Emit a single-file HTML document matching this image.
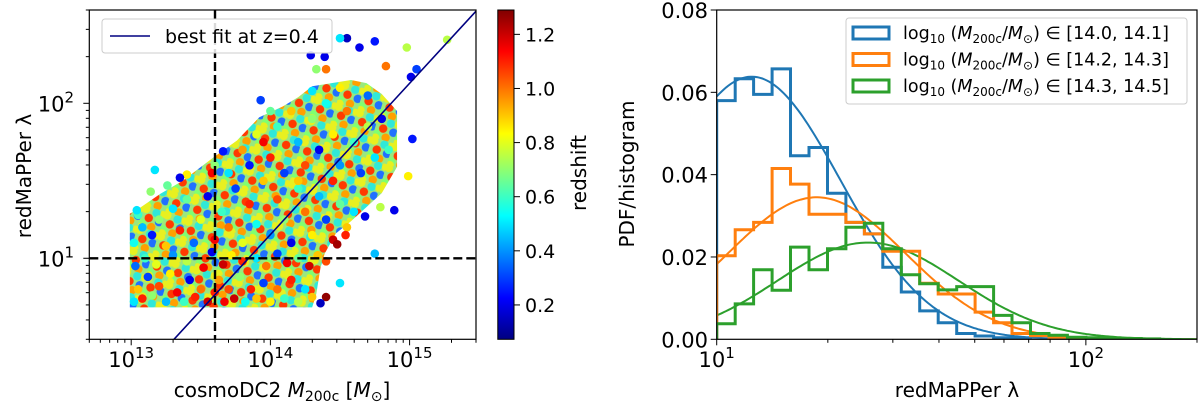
<!DOCTYPE html>
<html><head><meta charset="utf-8"><style>
html,body{margin:0;padding:0;background:#fff;width:1200px;height:408px;overflow:hidden;}
svg{display:block;font-family:"DejaVu Sans","Liberation Sans",sans-serif;}
</style></head><body>
<svg id="fig" width="1200" height="408" viewBox="0 0 1200 408" xmlns="http://www.w3.org/2000/svg">
<defs>
<linearGradient id="jetgrad" x1="0" y1="1" x2="0" y2="0">
<stop offset="0" stop-color="#000080"/><stop offset="0.125" stop-color="#0000ff"/><stop offset="0.375" stop-color="#00ffff"/><stop offset="0.625" stop-color="#ffff00"/><stop offset="0.875" stop-color="#ff0000"/><stop offset="1" stop-color="#800000"/>
</linearGradient>
<pattern id="dots" width="22" height="22" patternUnits="userSpaceOnUse" patternTransform="rotate(17)">
<rect width="22" height="22" fill="#9ae87e"/>
<circle cx="3" cy="3" r="4.2" fill="#e8f020"/>
<circle cx="14" cy="4" r="4.2" fill="#30e8d8"/>
<circle cx="8" cy="11" r="4.2" fill="#ff3a00"/>
<circle cx="19" cy="12" r="4.2" fill="#2070ff"/>
<circle cx="3" cy="18" r="4.2" fill="#80ff70"/>
<circle cx="13" cy="19" r="4.2" fill="#ffa000"/>
<circle cx="22" cy="3" r="4.2" fill="#e8f020"/>
<circle cx="3" cy="22" r="4.2" fill="#e8f020"/>
</pattern>
<clipPath id="clipL"><rect x="89.3" y="10" width="386.7" height="329.3"/></clipPath>
<clipPath id="clipR"><rect x="716.7" y="10" width="480.3" height="329.3"/></clipPath>
</defs>
<g id="left"></g>
<g id="right"></g>
</svg>
<script>
// ---------- LEFT SCATTER DATA ----------
const scatterLogM=[13.02,13.05,13.08,13.12,13.15,13.2,13.25,13.28,13.33,13.38,13.42,13.46,13.5,13.55,13.6,13.63,13.67,13.7,13.74,13.78,13.82,13.86,13.9,13.95,14.0,14.05,14.1,14.15,14.2,14.25,14.3,13.03,13.1,13.18,13.3,13.4,13.52,13.58,13.66,13.72,13.8,13.9,13.97,14.05,14.12,14.2,14.28,14.34,14.4,
13.02,13.08,13.05,13.15,13.2,13.25,13.3,13.35,13.4,13.45,13.5,13.55,13.6,13.65,13.7,13.75,13.8,13.85,13.9,13.95,14.0,14.05,14.1,14.15,14.2,14.25,14.3,14.35,14.4,14.45,14.5,14.55,14.6,
13.6,13.7,13.8,13.85,13.9,14.0,14.05,14.1,14.15,14.2,14.25,14.3,14.35,14.4,14.45,14.5,14.55,14.6,14.65,14.7,14.75,14.8,14.85,14.3,14.5,14.7,14.0,13.95,14.45,14.2,
14.55,14.5,14.75,14.64,14.98,15.27,15.05,15.01,15.02,14.99,14.89,14.75,14.54,14.48,14.4,14.36,14.5,13.17,13.4,13.35,13.14,13.26,13.04,13.93,14.29,14.39,14.33,14.4,14.83,13.66,13.58,14.79,14.68];
const scatterLogLam=[0.72,0.80,0.74,0.88,0.76,0.82,0.72,0.9,0.78,0.72,0.86,0.75,0.8,0.72,0.78,0.86,0.72,0.8,0.74,0.88,0.72,0.8,0.74,0.84,0.72,0.8,0.74,0.86,0.72,0.8,0.75,0.95,1.0,0.96,1.02,0.98,0.94,1.04,0.96,1.02,0.98,1.0,0.95,1.03,0.97,1.0,0.95,1.02,0.98,
1.1,1.2,1.28,1.15,1.25,1.08,1.32,1.18,1.38,1.1,1.25,1.4,1.12,1.3,1.2,1.45,1.1,1.35,1.22,1.5,1.15,1.38,1.25,1.1,1.45,1.3,1.15,1.4,1.25,1.12,1.35,1.2,1.3,
1.6,1.55,1.7,1.6,1.8,1.65,1.85,1.55,1.95,1.75,1.6,1.9,1.7,2.0,1.8,1.6,1.95,1.75,1.55,1.85,1.65,1.9,1.7,2.08,2.1,2.05,1.95,1.75,1.5,1.5,
2.42,2.42,2.40,2.36,2.36,2.41,2.22,2.17,1.77,1.53,1.31,1.03,1.15,1.09,0.75,0.71,0.84,1.57,1.54,1.52,1.43,1.47,1.31,2.02,2.31,2.3,2.22,2.22,2.24,1.69,1.55,1.33,1.27];
const scatterZ=[0.5,0.9,1.1,0.3,0.7,1.05,0.45,0.85,1.15,0.6,0.2,1.1,1.0,1.2,1.1,0.95,1.15,1.05,1.2,0.7,0.55,1.1,0.9,0.3,0.85,1.0,0.6,1.1,0.75,0.5,0.9,0.35,0.6,0.8,0.4,0.75,1.15,0.2,1.2,0.85,1.1,0.5,1.0,0.3,1.15,0.65,1.2,0.9,1.05,
0.55,0.45,0.6,0.25,0.7,0.9,0.5,1.1,0.65,0.35,0.8,0.2,1.15,0.6,1.0,0.3,0.8,1.1,0.55,0.9,0.4,1.05,0.7,0.2,0.6,1.0,0.85,0.45,0.3,1.2,0.65,0.9,0.5,
0.7,0.5,0.95,0.25,0.8,1.1,0.6,0.3,0.9,0.45,1.05,0.7,0.2,0.55,0.85,0.4,1.0,0.6,0.3,0.75,0.5,0.2,0.6,0.5,0.85,0.35,0.65,1.15,1.1,0.9,
0.15,0.5,0.25,0.2,0.75,0.75,0.3,0.2,0.25,0.85,0.2,0.45,1.1,1.25,1.27,0.15,0.5,0.5,0.85,0.2,0.7,0.65,0.5,0.3,0.2,0.2,0.7,1.0,1.0,0.25,1.15,0.75,0.2];
// dense-cloud outline (log M, log lambda)
const cloudLogM=[12.99,12.99,13.07,13.21,13.37,13.59,13.76,13.92,14.09,14.20,14.30,14.44,14.58,14.69,14.80,14.91,14.91,14.80,14.69,14.58,14.47,14.39,14.36,14.33,14.30];
const cloudLogLam=[0.683,1.287,1.33,1.416,1.50,1.65,1.76,1.91,1.98,2.04,2.11,2.13,2.15,2.13,2.06,1.95,1.59,1.42,1.33,1.24,1.16,1.03,0.94,0.77,0.683];
const fitSlope=0.976, fitPivotLogM=14.0, fitPivotLogLam=1.153;
const cutLogM=Math.log10(4e13), cutLam=10;
const cbTicks=[0.2,0.4,0.6,0.8,1.0,1.2];
const zMin=0.073, zMax=1.29;

// ---------- RIGHT HISTOGRAM DATA ----------
const binStartLog=1.0, binWidthLog=0.05;
const histBlue=[0.058,0.0633,0.0595,0.0657,0.0446,0.0466,0.0355,0.0284,0.0256,0.0175,0.0115,0.0069,0.004,0.0014,0.0008,0.0004,0.0002];
const histOrange=[0.0203,0.0266,0.0284,0.0415,0.0377,0.0304,0.0304,0.0284,0.0256,0.0214,0.0214,0.0136,0.011,0.011,0.0066,0.004,0.0014,0.0009,0.0005,0.0003,0.0002];
const histGreen=[0.0038,0.0086,0.0169,0.0119,0.0224,0.0169,0.022,0.0272,0.0282,0.022,0.0157,0.0135,0.012,0.0128,0.0128,0.0058,0.004,0.0014,0.001,0.0005,0.0004,0.0003,0.0002,0.0001];
const curveMu=[1.095,1.271,1.41], curveSigma=[0.24,0.24,0.245], curveAmp=[0.0638,0.0345,0.0235];
const seriesColors=['#1f77b4','#ff7f0e','#2ca02c'];
const legendRanges=['[14.0, 14.1]','[14.2, 14.3]','[14.3, 14.5]'];
const yTicksR=[0,0.02,0.04,0.06,0.08];

const NS='http://www.w3.org/2000/svg';
function mk(tag,attrs,parent){const e=document.createElementNS(NS,tag);for(const k in attrs)e.setAttribute(k,attrs[k]);parent.appendChild(e);return e;}
function jet(z){let t=(z-zMin)/(zMax-zMin);t=Math.max(0,Math.min(1,t));
 const st=[[0,0,0,128],[0.125,0,0,255],[0.375,0,255,255],[0.625,255,255,0],[0.875,255,0,0],[1,128,0,0]];
 for(let i=1;i<st.length;i++){if(t<=st[i][0]){const a=st[i-1],b=st[i],f=(t-a[0])/(b[0]-a[0]);return `rgb(${Math.round(a[1]+f*(b[1]-a[1]))},${Math.round(a[2]+f*(b[2]-a[2]))},${Math.round(a[3]+f*(b[3]-a[3]))})`;}}return 'rgb(128,0,0)';}

// ---------- LEFT ----------
const L=document.getElementById('left');
const lx0=89.3,lx1=476,ly0=10,ly1=339.3;
const xmin=Math.log10(5e12),xmax=Math.log10(3e15),ymin=Math.log10(3),ymax=Math.log10(400);
const sx=v=>lx0+(v-xmin)/(xmax-xmin)*(lx1-lx0);
const sy=v=>ly1-(v-ymin)/(ymax-ymin)*(ly1-ly0);
const plotL=mk('g',{'clip-path':'url(#clipL)'},L);
let cpts=cloudLogM.map((m,i)=>sx(m)+','+sy(cloudLogLam[i])).join(' ');
const cloud=mk('polygon',{points:cpts,fill:'url(#dots)',stroke:'none'},plotL);


for(let i=0;i<scatterLogM.length;i++){
 const c=mk('circle',{cx:sx(scatterLogM[i]),cy:sy(scatterLogLam[i]),r:4.3,fill:jet(scatterZ[i])},plotL);
 
 
}
const fl=mk('line',{x1:sx(xmin),y1:sy(fitPivotLogLam+fitSlope*(xmin-fitPivotLogM)),x2:sx(xmax),y2:sy(fitPivotLogLam+fitSlope*(xmax-fitPivotLogM)),stroke:'#000080','stroke-width':1.6},plotL);


const vl=mk('line',{x1:sx(cutLogM),y1:ly0,x2:sx(cutLogM),y2:ly1,stroke:'#000','stroke-width':2.4,'stroke-dasharray':'9,4'},plotL);


const hl=mk('line',{x1:lx0,y1:sy(Math.log10(cutLam)),x2:lx1,y2:sy(Math.log10(cutLam)),stroke:'#000','stroke-width':2.4,'stroke-dasharray':'9,4'},plotL);


mk('rect',{x:lx0,y:ly0,width:lx1-lx0,height:ly1-ly0,fill:'none',stroke:'#000','stroke-width':1.2},L);
for(let d=12;d<=15;d++)for(let k=1;k<10;k++){const v=d+Math.log10(k);if(v<xmin-1e-6||v>xmax+1e-6)continue;
 const x=sx(v);mk('line',{x1:x,y1:ly1,x2:x,y2:ly1+(k==1?6:3.5),stroke:'#000','stroke-width':1},L);
 if(k==1){const t=mk('text',{x:x,y:367,'font-size':21,'text-anchor':'middle'},L);t.innerHTML=`10<tspan dy="-9" font-size="15">${d}</tspan>`;
 
 }}
for(let d=0;d<=2;d++)for(let k=1;k<10;k++){const v=d+Math.log10(k);if(v<ymin-1e-6||v>ymax+1e-6)continue;
 const y=sy(v);mk('line',{x1:lx0,y1:y,x2:lx0-(k==1?6:3.5),y2:y,stroke:'#000','stroke-width':1},L);
 if(k==1){const t=mk('text',{x:74,y:y+8,'font-size':21,'text-anchor':'end'},L);t.innerHTML=`10<tspan dy="-9" font-size="15">${d}</tspan>`;
 
 }}
let t=mk('text',{x:282,y:397,'font-size':20,'text-anchor':'middle'},L);
t.innerHTML='cosmoDC2 <tspan font-style="italic">M</tspan><tspan font-size="14" dy="4">200c</tspan><tspan dy="-4"> [</tspan><tspan font-style="italic">M</tspan><tspan font-size="14" dy="4">⊙</tspan><tspan dy="-4">]</tspan>';


t=mk('text',{x:0,y:0,'font-size':20,'text-anchor':'middle',transform:'translate(31,176) rotate(-90)'},L);
t.textContent='redMaPPer λ';


const lg=mk('g',{},L);


mk('rect',{x:102,y:19,width:230,height:34,rx:3,fill:'#fff','fill-opacity':0.85,stroke:'#ccc'},lg);
mk('line',{x1:110,y1:36,x2:150,y2:36,stroke:'#000080','stroke-width':1.6},lg);
t=mk('text',{x:165,y:43,'font-size':19},lg);t.textContent='best fit at z=0.4';


const cbx=497.8,cbw=16.2;
const cb=mk('rect',{x:cbx,y:ly0,width:cbw,height:ly1-ly0,fill:'url(#jetgrad)',stroke:'#000','stroke-width':1},L);


const cy=z=>ly1-(z-zMin)/(zMax-zMin)*(ly1-ly0);
cbTicks.forEach(z=>{const y=cy(z);mk('line',{x1:cbx+cbw,y1:y,x2:cbx+cbw+6,y2:y,stroke:'#000','stroke-width':1},L);
 const tt=mk('text',{x:525,y:y+7,'font-size':19},L);tt.textContent=z.toFixed(1);
 
 });
t=mk('text',{x:0,y:0,'font-size':20,'text-anchor':'middle',transform:'translate(586,173) rotate(-90)'},L);
t.textContent='redshift';



// ---------- RIGHT ----------
const R=document.getElementById('right');
const rx0=716.7,rx1=1197,ry0=10,ry1=339.3;
const rxmin=1,rxmax=Math.log10(200),rymax=0.08;
const rsx=v=>rx0+(v-rxmin)/(rxmax-rxmin)*(rx1-rx0);
const rsy=v=>ry1-v/rymax*(ry1-ry0);
const plotR=mk('g',{'clip-path':'url(#clipR)'},R);
const hists=[histBlue,histOrange,histGreen];
for(let s=0;s<3;s++){let d='';
 for(let i=0;i<=200;i++){const v=rxmin+(rxmax-rxmin)*i/200;const p=curveAmp[s]*Math.exp(-Math.pow(v-curveMu[s],2)/(2*curveSigma[s]*curveSigma[s]));d+=(i?'L':'M')+rsx(v).toFixed(1)+','+rsy(p).toFixed(1);}
 const c=mk('path',{d:d,fill:'none',stroke:seriesColors[s],'stroke-width':2},plotR);
 
 
}
for(let s=0;s<3;s++){const h=hists[s];let d='M'+rsx(binStartLog)+','+rsy(0);
 for(let i=0;i<h.length;i++){const a=binStartLog+i*binWidthLog;d+='L'+rsx(a).toFixed(1)+','+rsy(h[i]).toFixed(1)+'L'+rsx(a+binWidthLog).toFixed(1)+','+rsy(h[i]).toFixed(1);}
 d+='L'+rsx(binStartLog+h.length*binWidthLog).toFixed(1)+','+rsy(0);
 const p=mk('path',{d:d,fill:'none',stroke:seriesColors[s],'stroke-width':3,'stroke-linejoin':'miter'},plotR);
 
 
}
mk('rect',{x:rx0,y:ry0,width:rx1-rx0,height:ry1-ry0,fill:'none',stroke:'#000','stroke-width':1.2},R);
for(let d=1;d<=2;d++)for(let k=1;k<10;k++){const v=d+Math.log10(k);if(v>rxmax+1e-6)continue;
 const x=rsx(v);mk('line',{x1:x,y1:ry1,x2:x,y2:ry1+(k==1?6:3.5),stroke:'#000','stroke-width':1},R);
 if(k==1){const tt=mk('text',{x:x,y:367,'font-size':21,'text-anchor':'middle'},R);tt.innerHTML=`10<tspan dy="-9" font-size="15">${d}</tspan>`;
 
 }}
yTicksR.forEach(v=>{const y=rsy(v);mk('line',{x1:rx0,y1:y,x2:rx0-6,y2:y,stroke:'#000','stroke-width':1},R);
 const tt=mk('text',{x:708,y:y+8,'font-size':21,'text-anchor':'end'},R);tt.textContent=v.toFixed(2);
 
 });
t=mk('text',{x:957,y:397,'font-size':20,'text-anchor':'middle'},R);t.textContent='redMaPPer λ';


t=mk('text',{x:0,y:0,'font-size':20,'text-anchor':'middle',transform:'translate(634,174) rotate(-90)'},R);t.textContent='PDF/histogram';


const lg2=mk('g',{},R);


mk('rect',{x:846,y:18,width:341,height:86,rx:3,fill:'#fff','fill-opacity':0.85,stroke:'#ccc'},lg2);
for(let s=0;s<3;s++){const y=33+s*26.5;
 mk('rect',{x:853,y:y-6,width:36,height:12,fill:'none',stroke:seriesColors[s],'stroke-width':3},lg2);
 const tt=mk('text',{x:903,y:y+6,'font-size':17.5},lg2);
 tt.innerHTML=`log<tspan font-size="12" dy="4">10</tspan><tspan dy="-4"> (</tspan><tspan font-style="italic">M</tspan><tspan font-size="12" dy="4">200c</tspan><tspan dy="-4">/</tspan><tspan font-style="italic">M</tspan><tspan font-size="12" dy="4">⊙</tspan><tspan dy="-4">) ∈ ${legendRanges[s]}</tspan>`;
 
 
}
</script>
</body></html>
